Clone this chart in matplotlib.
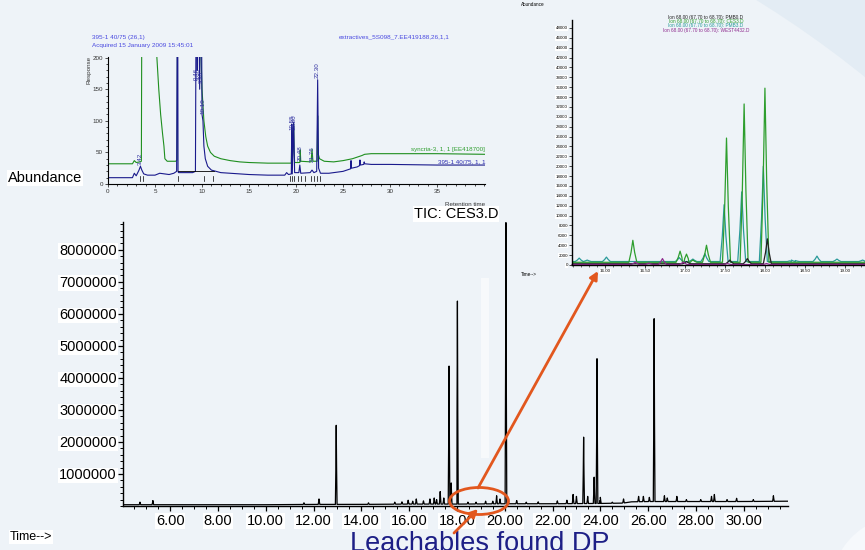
import numpy as np
import matplotlib
matplotlib.use("Agg")
import matplotlib.pyplot as plt
from matplotlib.patches import Ellipse, Rectangle, FancyArrowPatch
from matplotlib.ticker import MultipleLocator, FixedLocator

plt.rcParams['font.family'] = ['Liberation Sans', 'DejaVu Sans']

W, H = 865, 550

# ---------------- main TIC data ----------------
tic_base_t = [4.03, 6.0, 8.0, 10.0, 12.0, 14.0, 16.0, 18.0, 20.0, 22.0, 24.0, 24.9, 25.3, 26.0, 28.0, 30.0, 31.85]
tic_base_v = [0.04e6, 0.04e6, 0.04e6, 0.04e6, 0.05e6, 0.05e6, 0.06e6, 0.06e6, 0.07e6, 0.07e6, 0.08e6, 0.09e6, 0.13e6, 0.14e6, 0.14e6, 0.14e6, 0.15e6]
tic_peak_t = [4.74, 5.28, 11.6, 12.23, 12.95, 14.3, 15.4, 15.7, 15.96, 16.15, 16.3, 16.6, 16.87, 17.05, 17.15, 17.3, 17.45,
              17.67, 17.76, 18.02, 18.46, 18.8, 19.2, 19.5, 19.66, 19.8, 20.05, 20.5, 20.9, 21.4, 22.2, 22.6,
              22.86, 23.0, 23.3, 23.47, 23.74, 23.86, 24.0, 24.5, 24.97, 25.6, 25.8, 26.05, 26.25, 26.68, 26.8,
              27.2, 27.6, 28.2, 28.65, 28.77, 29.3, 29.7, 30.4, 31.24]
tic_peak_h = [0.12e6, 0.17e6, 0.1e6, 0.22e6, 2.52e6, 0.1e6, 0.12e6, 0.13e6, 0.18e6, 0.15e6, 0.22e6, 0.16e6, 0.22e6, 0.25e6, 0.2e6, 0.45e6, 0.25e6,
              4.37e6, 0.72e6, 6.4e6, 0.12e6, 0.12e6, 0.15e6, 0.15e6, 0.32e6, 0.22e6, 8.85e6, 0.17e6, 0.12e6, 0.13e6, 0.16e6, 0.18e6,
              0.36e6, 0.3e6, 2.15e6, 0.3e6, 0.9e6, 4.6e6, 0.27e6, 0.12e6, 0.22e6, 0.3e6, 0.3e6, 0.27e6, 5.85e6, 0.32e6, 0.25e6,
              0.3e6, 0.2e6, 0.2e6, 0.3e6, 0.36e6, 0.2e6, 0.24e6, 0.2e6, 0.32e6]

# ---------------- top-left inset data ----------------
syn_t = [0, 2.6, 2.8, 3.0, 3.4, 3.55, 3.62, 5.15, 5.2, 5.4, 5.6, 5.8, 5.95, 6.05, 6.3, 7.2, 7.35, 7.42, 9.85, 9.9, 10.0, 10.2,
         10.4, 10.6, 10.9, 11.3, 12, 13, 14, 15, 17, 19, 19.5, 19.55, 19.6, 19.75, 19.8, 19.85, 20.4, 20.45, 20.5,
         21.6, 21.7, 21.8, 22.25, 22.3, 22.35, 22.5, 23, 24, 25, 26, 27, 27.3, 28, 30, 35, 40.1]
syn_v = [32, 32, 37, 34, 35, 36, 400, 400, 200, 150, 110, 80, 60, 40, 36, 36, 38, 400, 400, 200, 150, 100,
         75, 60, 50, 44, 40, 37, 35, 34, 33, 33, 33, 90, 34, 95, 50, 34, 34, 54, 36,
         35, 55, 36, 36, 108, 48, 40, 36, 35, 37, 40, 45, 47, 48, 48, 48, 47]
s395_t = [0, 2.6, 2.8, 3.0, 3.3, 3.45, 3.6, 3.8, 4.2, 5, 5.5, 6, 6.5, 7, 7.3, 7.4, 7.45, 7.5, 9.0, 9.3, 9.4, 9.5,
          9.6, 9.75, 9.9, 10.0, 10.1, 10.2, 10.35, 10.6, 11, 12, 13, 14, 15, 17, 18.8, 19.0, 19.2, 19.5, 19.55,
          19.6, 19.75, 19.85, 20.3, 20.4, 20.5, 21.5, 21.7, 21.9, 22.2, 22.3, 22.4, 22.6, 23.5, 24, 25, 25.8, 25.85,
          25.9, 26.5, 26.75, 26.8, 26.85, 27.2, 27.25, 27.3, 28, 30, 35, 40.1]
s395_v = [10, 10, 17, 13, 22, 28, 22, 16, 14, 14, 17, 16, 15, 17, 20, 400, 20, 18, 18, 20, 400, 180,
          400, 150, 400, 110, 100, 60, 40, 28, 22, 18, 17, 16, 15, 14, 14, 18, 15, 16, 95,
          16, 98, 18, 18, 30, 17, 18, 22, 18, 20, 165, 25, 17, 17, 18, 20, 24, 37,
          25, 27, 29, 38, 30, 31, 35, 32, 31, 31, 30, 30]
mark_t = [3.4, 3.7, 7.4, 10.2, 11.2, 19.4, 19.6, 19.8, 20.2, 20.5, 21.0, 21.6, 21.9, 22.2, 22.6]
label_t = [3.42, 9.40, 9.60, 9.90, 10.10, 19.55, 19.80, 20.45, 21.76, 22.30]
label_txt = ['3.42', '9.46', '9.60', '9.90', '10.10', '19.55', '19.80', '20.48', '21.76', '22.30']
label_y = [30, 165, 165, 160, 110, 85, 85, 37, 35, 168]

# ---------------- right inset (ion 68) data ----------------
ion_names = ['Ion 68.00 (67.70 to 68.70): PMB0.D', 'Ion 68.00 (67.70 to 68.70): CES3.D',
             'Ion 68.00 (67.70 to 68.70): PMB3.D', 'Ion 68.00 (67.70 to 68.70): WEST4432.D']
ion_colors = ['#222222', '#2e9e2e', '#2a9a9a', '#8e2a8e']
ion_base = [250, 550, 700, 100]
ion_peak_t = [[17.02, 17.56, 17.78, 18.03],
              [16.35, 16.94, 17.02, 17.1, 17.27, 17.52, 17.74, 18.00],
              [15.68, 15.78, 16.02, 16.93, 17.1, 17.25, 17.49, 17.71, 17.98, 18.33, 18.38, 18.65, 18.9, 19.22],
              [16.38, 16.55, 16.72, 16.98, 17.53, 18.02]]
ion_peak_h = [[700, 1000, 1300, 5300],
              [5000, 2800, 2200, 1000, 4000, 25700, 32600, 35800],
              [1400, 1000, 1600, 1500, 1200, 2300, 12200, 14800, 20000, 1000, 900, 1800, 1200, 1000],
              [600, 400, 1300, 600, 300, 300]]


def fx(x):
    return x / W


def fy(y):
    return 1 - y / H


def build(base_t, base_v, pk_t, pk_h, w):
    pts = list(zip(base_t, base_v))
    for t, h in zip(pk_t, pk_h):
        b = float(np.interp(t, base_t, base_v))
        pts += [(t - w, b), (t - 0.45 * w, b + 0.45 * (h - b)), (t, h), (t + 0.45 * w, b + 0.45 * (h - b)), (t + w, b)]
    pts.sort()
    return [p[0] for p in pts], [p[1] for p in pts]


fig = plt.figure(figsize=(W / 100, H / 100), dpi=100)
fig.patch.set_facecolor('#e3ecf4')
fig.add_artist(Ellipse((fx(200), fy(900)), 2 * 1058 / W, 2 * 1058 / H, facecolor='#eef3f8',
                       edgecolor='none', transform=fig.transFigure, zorder=-10))
fig.add_artist(Ellipse((fx(905), fy(590)), 2 * 75 / W, 2 * 75 / H, facecolor='#f6f9fc',
                       edgecolor='none', transform=fig.transFigure, zorder=-9))

# ---------------- main axes ----------------
ax = fig.add_axes([fx(123), fy(506), fx(788) - fx(123), fy(222) - fy(506)])
ax.set_facecolor('none')
tt, tv = build(tic_base_t, tic_base_v, tic_peak_t, tic_peak_h, 0.035)
ax.plot(tt, tv, color='black', lw=0.9)
ax.set_xlim(4.03, 31.85)
ax.set_ylim(0, 8.87e6)
for s in ['top', 'right']:
    ax.spines[s].set_visible(False)
for s in ['left', 'bottom']:
    ax.spines[s].set_linewidth(1.0)
ax.xaxis.set_major_locator(FixedLocator([6, 8, 10, 12, 14, 16, 18, 20, 22, 24, 26, 28, 30]))
ax.xaxis.set_minor_locator(MultipleLocator(0.5))
ax.yaxis.set_major_locator(FixedLocator([1e6, 2e6, 3e6, 4e6, 5e6, 6e6, 7e6, 8e6]))
ax.yaxis.set_minor_locator(MultipleLocator(2e5))
ax.set_xticklabels(['%.2f' % v for v in [6, 8, 10, 12, 14, 16, 18, 20, 22, 24, 26, 28, 30]])
ax.set_yticklabels(['%d' % v for v in [1000000, 2000000, 3000000, 4000000, 5000000, 6000000, 7000000, 8000000]])
ax.tick_params(axis='both', which='major', length=3.5, width=0.9, labelsize=10.5, pad=1)
ax.tick_params(axis='x', which='major', pad=2.5)
ax.tick_params(axis='both', which='minor', length=2.5, width=0.7)
for lab in ax.get_xticklabels() + ax.get_yticklabels():
    lab.set_bbox(dict(facecolor='white', edgecolor='none', pad=0.6))

fig.text(fx(8), fy(178), 'Abundance', fontsize=10.5, va='center', ha='left',
         bbox=dict(facecolor='white', edgecolor='none', pad=0.6))
fig.text(fx(456), fy(214), 'TIC: CES3.D', fontsize=10.5, va='center', ha='center',
         bbox=dict(facecolor='white', edgecolor='none', pad=0.6))
fig.text(fx(10), fy(537), 'Time-->', fontsize=9, va='center', ha='left',
         bbox=dict(facecolor='white', edgecolor='none', pad=0.6))

# faint white band
fig.add_artist(Rectangle((fx(481), fy(458)), 8 / W, 180 / H, facecolor='white', alpha=0.55,
                         edgecolor='none', transform=fig.transFigure, zorder=1))

# ---------------- top-left inset ----------------
ai = fig.add_axes([fx(108), fy(184), fx(485) - fx(108), fy(57) - fy(184)])
ai.set_facecolor('none')
ai.plot(syn_t, syn_v, color='#1f8f1f', lw=0.8)
ai.plot(s395_t, s395_v, color='#1a1a8c', lw=0.8)
ai.plot([7.4, 11.3], [20, 20], color='black', lw=0.6)
for t in mark_t:
    ai.plot([t, t], [4, 12], color='black', lw=0.5)
for t, txt, y in zip(label_t, label_txt, label_y):
    ai.text(t, y, txt, rotation=90, fontsize=4.5, color='#3030a0', ha='center', va='bottom')
ai.set_xlim(0, 40.1)
ai.set_ylim(0, 201)
for s in ['top', 'right']:
    ai.spines[s].set_visible(False)
for s in ['left', 'bottom']:
    ai.spines[s].set_linewidth(0.8)
ai.xaxis.set_major_locator(FixedLocator([0, 5, 10, 15, 20, 25, 30, 35]))
ai.xaxis.set_minor_locator(MultipleLocator(1))
ai.yaxis.set_major_locator(FixedLocator([0, 50, 100, 150, 200]))
ai.yaxis.set_minor_locator(MultipleLocator(10))
ai.tick_params(axis='both', which='major', length=2.5, width=0.6, labelsize=4.5, pad=1, colors='#333333')
ai.tick_params(axis='both', which='minor', length=1.5, width=0.5)
ai.set_ylabel('Response', fontsize=4.5, labelpad=0, color='#333333')
ai.yaxis.set_label_coords(-0.045, 0.9)
ai.text(1.0, -0.14, 'Retention time', transform=ai.transAxes, fontsize=4.5, ha='right', va='top', color='#333333')
ai.text(40.1, 50, 'syncria-3, 1, 1 [EE418700]', fontsize=4.5, color='#2e9e2e', ha='right', va='bottom')
ai.text(40.1, 31, '395-1 40/75, 1, 1', fontsize=4.5, color='#2a2ab0', ha='right', va='bottom')
fig.text(fx(92), fy(37), '395-1 40/75 (26,1)', fontsize=4.6, color='#4a4ae0', va='center', ha='left')
fig.text(fx(92), fy(45), 'Acquired 15 January 2009 15:45:01', fontsize=4.6, color='#4a4ae0', va='center', ha='left')
fig.text(fx(450), fy(37), 'extractives_5S098_7.EE419188,26,1,1', fontsize=4.6, color='#4a4ae0', va='center', ha='right')

# ---------------- right inset ----------------
ar = fig.add_axes([fx(572), fy(265), 1 - fx(572), fy(20) - fy(265)])
ar.set_facecolor('none')
order = [2, 1, 0, 3]
for i in order:
    xt, yv = build([15.59, 19.25], [ion_base[i], ion_base[i]], ion_peak_t[i], ion_peak_h[i], 0.05)
    ar.plot(xt, yv, color=ion_colors[i], lw=0.9, clip_on=False if i == 3 else True)
ar.set_xlim(15.59, 19.25)
ar.set_ylim(0, 49600)
for s in ['top', 'right']:
    ar.spines[s].set_visible(False)
for s in ['left', 'bottom']:
    ar.spines[s].set_linewidth(1.0)
ar.xaxis.set_major_locator(FixedLocator([16.0, 16.5, 17.0, 17.5, 18.0, 18.5, 19.0]))
ar.xaxis.set_minor_locator(MultipleLocator(0.1))
ar.set_xticklabels(['%.2f' % v for v in [16.0, 16.5, 17.0, 17.5, 18.0, 18.5, 19.0]])
ar.yaxis.set_major_locator(MultipleLocator(2000))
ar.yaxis.set_major_formatter(matplotlib.ticker.FuncFormatter(lambda v, p: '%d' % v))
ar.tick_params(axis='both', which='major', length=2, width=0.5, labelsize=3.2, pad=1)
ar.tick_params(axis='both', which='minor', length=1.2, width=0.4)
for lab in ar.get_xticklabels() + ar.get_yticklabels():
    lab.set_bbox(dict(facecolor='white', edgecolor='none', pad=0.3))
fig.text(fx(521), fy(5), 'Abundance', fontsize=3.3, va='center', ha='left')
fig.text(fx(521), fy(274), 'Time-->', fontsize=3.3, va='center', ha='left')
for k, (nm, c) in enumerate(zip(ion_names, ion_colors)):
    fig.text(fx(706), fy(17 + 4.4 * k), nm, fontsize=3.4, color=c, ha='center', va='center')

# ---------------- annotations ----------------
orange = '#e2571e'
fig.add_artist(Ellipse((fx(479), fy(501)), 59 / W, 27 / H, facecolor='none', edgecolor=orange,
                       lw=2.0, transform=fig.transFigure, zorder=20))
fig.add_artist(FancyArrowPatch((fx(478), fy(488)), (fx(598), fy(271)), arrowstyle='-|>', mutation_scale=12,
                               color=orange, lw=2.0, transform=fig.transFigure, zorder=20,
                               shrinkA=0, shrinkB=0))
fig.add_artist(FancyArrowPatch((fx(454), fy(533)), (fx(478), fy(509)), arrowstyle='-|>', mutation_scale=12,
                               color=orange, lw=2.0, transform=fig.transFigure, zorder=20,
                               shrinkA=0, shrinkB=0))
fig.text(fx(350), fy(551), 'Leachables found DP', fontsize=19.5, color='#1d1f86', ha='left', va='baseline')

fig.savefig('out.png', dpi=100, facecolor=fig.get_facecolor())
